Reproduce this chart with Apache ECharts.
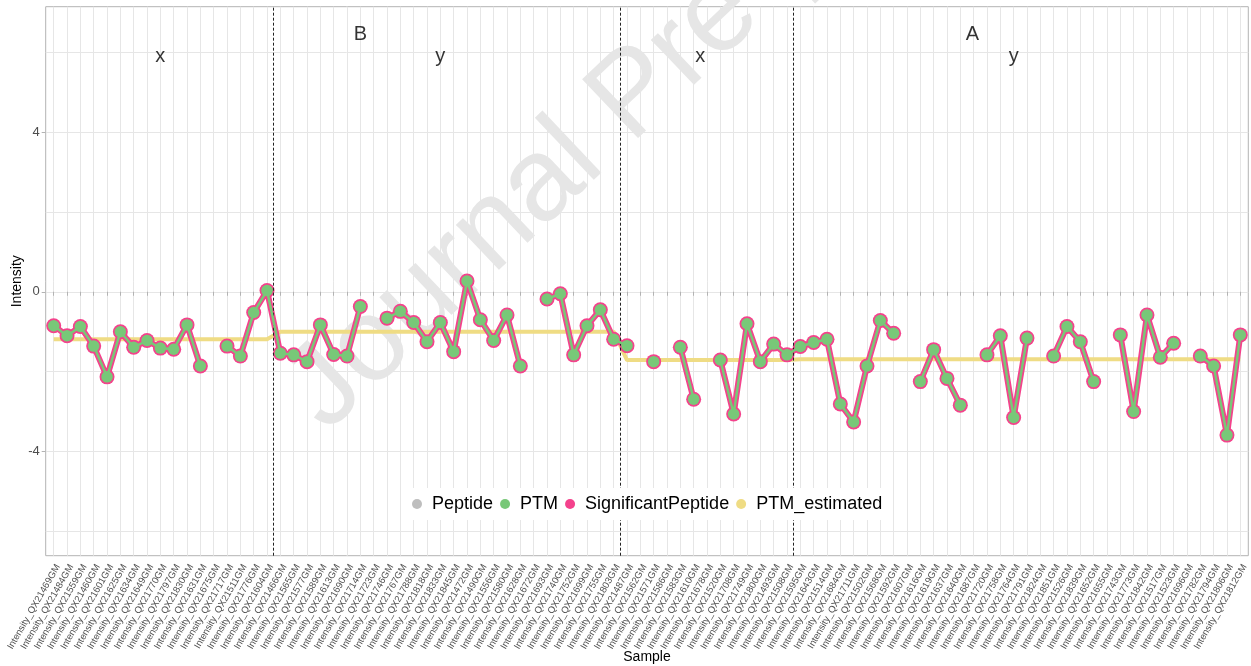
<!DOCTYPE html>
<html>
<head>
<meta charset="UTF-8">
<title>PTM intensity by sample</title>
<style>
  html, body { margin: 0; padding: 0; background: #fff; }
  #main { width: 1251px; height: 666px; }
</style>
<script src="https://cdn.jsdelivr.net/npm/echarts@6/dist/echarts.min.js"></script>
</head>
<body>
<div id="main"></div>
<script>
// samples in plotting order (B-x, B-y, A-x, A-y)
var samples = [
  'Intensity_QX21469GM', 'Intensity_QX21484GM', 'Intensity_QX21559GM', 'Intensity_QX21460GM', 'Intensity_QX21601GM',
  'Intensity_QX21625GM', 'Intensity_QX21634GM', 'Intensity_QX21649GM', 'Intensity_QX21770GM', 'Intensity_QX21797GM',
  'Intensity_QX21830GM', 'Intensity_QX21631GM', 'Intensity_QX21675GM', 'Intensity_QX21717GM', 'Intensity_QX21511GM',
  'Intensity_QX21776GM', 'Intensity_QX21604GM',
  'Intensity_QX21466GM', 'Intensity_QX21565GM', 'Intensity_QX21577GM', 'Intensity_QX21589GM', 'Intensity_QX21613GM',
  'Intensity_QX21690GM', 'Intensity_QX21714GM', 'Intensity_QX21723GM', 'Intensity_QX21746GM', 'Intensity_QX21767GM',
  'Intensity_QX21788GM', 'Intensity_QX21818GM', 'Intensity_QX21833GM', 'Intensity_QX21845GM', 'Intensity_QX21472GM',
  'Intensity_QX21490GM', 'Intensity_QX21556GM', 'Intensity_QX21580GM', 'Intensity_QX21628GM', 'Intensity_QX21672GM',
  'Intensity_QX21693GM', 'Intensity_QX21740GM', 'Intensity_QX21752GM', 'Intensity_QX21699GM', 'Intensity_QX21755GM',
  'Intensity_QX21803GM',
  'Intensity_QX21487GM', 'Intensity_QX21562GM', 'Intensity_QX21571GM', 'Intensity_QX21586GM', 'Intensity_QX21583GM',
  'Intensity_QX21610GM', 'Intensity_QX21678GM', 'Intensity_QX21520GM', 'Intensity_QX21708GM', 'Intensity_QX21749GM',
  'Intensity_QX21800GM', 'Intensity_QX21493GM', 'Intensity_QX21508GM',
  'Intensity_QX21595GM', 'Intensity_QX21643GM', 'Intensity_QX21514GM', 'Intensity_QX21684GM', 'Intensity_QX21711GM',
  'Intensity_QX21502GM', 'Intensity_QX21568GM', 'Intensity_QX21592GM', 'Intensity_QX21607GM', 'Intensity_QX21616GM',
  'Intensity_QX21619GM', 'Intensity_QX21637GM', 'Intensity_QX21640GM', 'Intensity_QX21687GM', 'Intensity_QX21720GM',
  'Intensity_QX21758GM', 'Intensity_QX21764GM', 'Intensity_QX21791GM', 'Intensity_QX21824GM', 'Intensity_QX21851GM',
  'Intensity_QX21526GM', 'Intensity_QX21839GM', 'Intensity_QX21652GM', 'Intensity_QX21655GM', 'Intensity_QX21743GM',
  'Intensity_QX21773GM', 'Intensity_QX21842GM', 'Intensity_QX21517GM', 'Intensity_QX21523GM', 'Intensity_QX21696GM',
  'Intensity_QX21782GM', 'Intensity_QX21794GM', 'Intensity_QX21806GM', 'Intensity_QX21812GM'
];

// PTM intensity (null = not measured)
var ptm = [
  -0.85, -1.10, -0.87, -1.36, -2.13, -1.00, -1.39, -1.22, -1.41, -1.44,
  -0.83, -1.86, null, -1.36, -1.61, -0.52, 0.03, -1.54, -1.58, -1.75,
  -0.83, -1.57, -1.61, -0.37, null, -0.66, -0.49, -0.77, -1.25, -0.77,
  -1.50, 0.27, -0.70, -1.22, -0.58, -1.86, null, -0.18, -0.05, -1.58,
  -0.85, -0.45, -1.19, -1.35, null, -1.75, null, -1.39, -2.69, null,
  -1.71, -3.06, -0.80, -1.75, -1.31, -1.58, -1.37, -1.27, -1.19, -2.81,
  -3.26, -1.86, -0.72, -1.04, null, -2.25, -1.45, -2.17, -2.84, null,
  -1.58, -1.10, -3.15, -1.16, null, -1.61, -0.87, -1.25, -2.25, null,
  -1.08, -3.00, -0.58, -1.64, -1.29, null, -1.61, -1.86, -3.59, -1.08
];

// PTM_estimated per sample
var ptmEstimated = [
  -1.19, -1.19, -1.19, -1.19, -1.19, -1.19, -1.19, -1.19, -1.19, -1.19,
  -1.19, -1.19, -1.19, -1.19, -1.19, -1.19, -1.19, -1.00, -1.00, -1.00,
  -1.00, -1.00, -1.00, -1.00, -1.00, -1.00, -1.00, -1.00, -1.00, -1.00,
  -1.00, -1.00, -1.00, -1.00, -1.00, -1.00, -1.00, -1.00, -1.00, -1.00,
  -1.00, -1.00, -1.00, -1.71, -1.71, -1.71, -1.71, -1.71, -1.71, -1.71,
  -1.71, -1.71, -1.71, -1.71, -1.71, -1.71, -1.69, -1.69, -1.69, -1.69,
  -1.69, -1.69, -1.69, -1.69, -1.69, -1.69, -1.69, -1.69, -1.69, -1.69,
  -1.69, -1.69, -1.69, -1.69, -1.69, -1.69, -1.69, -1.69, -1.69, -1.69,
  -1.69, -1.69, -1.69, -1.69, -1.69, -1.69, -1.69, -1.69, -1.69, -1.69
];

var peptide = [];

// group boundaries (between sample indices) and group annotations
var dividers = [16.5, 42.5, 55.5];
var notes = [
  { text: 'B', x: 23, y: 6.45 },
  { text: 'A', x: 68.9, y: 6.45 },
  { text: 'x', x: 8, y: 5.9 },
  { text: 'y', x: 29, y: 5.9 },
  { text: 'x', x: 48.5, y: 5.9 },
  { text: 'y', x: 72, y: 5.9 }
];

var yTicks = [-4, 0, 4];
var yGrid = [-6, -4, -2, 0, 2, 4, 6];
var Y_MIN = -6.61, Y_MAX = 7.14;

var FONT = '"Liberation Sans", Arial, sans-serif';
var gridColor = '#e6e6e6';

var chart = echarts.init(document.getElementById('main'));

var option = {
  animation: false,
  backgroundColor: '#fff',
  textStyle: { fontFamily: FONT },
  grid: [
    // data area: first/last sample sit 0.6 units inside the panel
    { left: 53.7, right: 10.7, top: 6.7, bottom: 110.3, outerBoundsMode: 'none' },
    // panel (border + horizontal grid)
    {
      left: 45.7, right: 2.7, top: 6.7, bottom: 110.3, outerBoundsMode: 'none',
      show: true, borderColor: '#b3b3b3', borderWidth: 1, backgroundColor: 'transparent'
    }
  ],
  xAxis: [
    {
      gridIndex: 0,
      type: 'category',
      data: samples,
      boundaryGap: false,
      axisLine: { show: false },
      axisTick: { show: true, interval: 0, length: 4, lineStyle: { color: '#b3b3b3' } },
      axisLabel: {
        interval: 0, rotate: 60, fontSize: 9.5, color: '#4d4d4d',
        margin: 7, verticalAlign: 'top', fontFamily: FONT
      },
      splitLine: { show: true, interval: 0, lineStyle: { color: gridColor, width: 1 } },
      name: 'Sample',
      nameLocation: 'middle',
      nameGap: 94,
      nameMoveOverlap: false,
      nameTextStyle: { fontSize: 14, color: '#000', fontFamily: FONT }
    },
    { gridIndex: 0, type: 'value', min: 0, max: samples.length - 1, show: false },
    { gridIndex: 1, type: 'value', min: 0, max: 1, show: false }
  ],
  yAxis: [
    { gridIndex: 0, type: 'value', min: Y_MIN, max: Y_MAX, show: false },
    {
      gridIndex: 1, type: 'value', min: Y_MIN, max: Y_MAX, position: 'left',
      axisLine: { show: false },
      axisTick: { show: false, customValues: yGrid },
      axisLabel: { show: false },
      splitLine: { show: true, lineStyle: { color: gridColor, width: 1 } }
    },
    {
      gridIndex: 1, type: 'value', min: Y_MIN, max: Y_MAX, position: 'left',
      axisLine: { show: false },
      axisTick: { show: true, customValues: yTicks, length: 4, lineStyle: { color: '#b3b3b3' } },
      axisLabel: { customValues: yTicks, fontSize: 13, color: '#4d4d4d', margin: 6, fontFamily: FONT },
      splitLine: { show: false },
      name: 'Intensity',
      nameLocation: 'middle',
      nameGap: 22,
      nameMoveOverlap: false,
      nameTextStyle: { fontSize: 14, color: '#000', fontFamily: FONT }
    }
  ],
  legend: {
    data: ['Peptide', 'PTM', 'SignificantPeptide', 'PTM_estimated'],
    left: 407,
    top: 488,
    orient: 'horizontal',
    icon: 'circle',
    itemWidth: 20,
    itemHeight: 10,
    itemGap: 7,
    padding: [7, 5, 7, 5],
    backgroundColor: '#fff',
    selectedMode: false,
    z: 10,
    textStyle: { fontSize: 18, color: '#000', fontFamily: FONT }
  },
  graphic: [
    {
      type: 'text',
      x: 304,
      y: 410,
      rotation: 43.5 * Math.PI / 180,
      z: 1,
      silent: true,
      style: {
        text: 'Journal Pre-proof',
        font: '118px ' + FONT,
        fill: '#e6e6e6',
        align: 'left',
        verticalAlign: 'middle',
        textAlign: 'left',
        textVerticalAlign: 'middle'
      }
    }
  ],
  series: [
    {
      name: 'PTM_estimated',
      type: 'line',
      xAxisIndex: 0, yAxisIndex: 0,
      data: ptmEstimated,
      symbol: 'none',
      z: 2,
      itemStyle: { color: '#efdc84' },
      lineStyle: { color: '#efdc84', width: 4 },
      emphasis: { disabled: true },
      silent: true
    },
    {
      name: 'Peptide',
      type: 'line',
      xAxisIndex: 0, yAxisIndex: 0,
      data: peptide,
      symbol: 'circle',
      z: 3,
      itemStyle: { color: '#bebebe' },
      lineStyle: { color: '#bebebe', width: 2 },
      silent: true
    },
    {
      name: 'SignificantPeptide',
      type: 'line',
      xAxisIndex: 0, yAxisIndex: 0,
      data: ptm,
      connectNulls: false,
      symbol: 'circle',
      symbolSize: 15,
      showSymbol: true,
      showAllSymbol: true,
      z: 4,
      itemStyle: { color: '#f4428c' },
      lineStyle: { color: '#f4428c', width: 6 },
      emphasis: { disabled: true },
      silent: true
    },
    {
      name: 'PTM',
      type: 'line',
      xAxisIndex: 0, yAxisIndex: 0,
      data: ptm,
      connectNulls: false,
      symbol: 'circle',
      symbolSize: 11.5,
      showSymbol: true,
      showAllSymbol: true,
      z: 5,
      itemStyle: { color: '#78c878' },
      lineStyle: { color: '#78c878', width: 2.5 },
      emphasis: { disabled: true },
      silent: true
    },
    {
      name: 'groups',
      type: 'scatter',
      xAxisIndex: 1, yAxisIndex: 0,
      z: 6,
      silent: true,
      symbolSize: 1,
      itemStyle: { color: 'rgba(0,0,0,0)' },
      data: notes.map(function (n) { return { name: n.text, value: [n.x, n.y] }; }),
      label: {
        show: true, position: 'inside', formatter: '{b}',
        fontSize: 20, color: '#000', fontFamily: FONT
      },
      markLine: {
        silent: true,
        symbol: 'none',
        label: { show: false },
        lineStyle: { type: [3, 2], color: '#222', width: 1 },
        data: dividers.map(function (d) { return { xAxis: d }; })
      }
    }
  ]
};

chart.setOption(option);
</script>
</body>
</html>
